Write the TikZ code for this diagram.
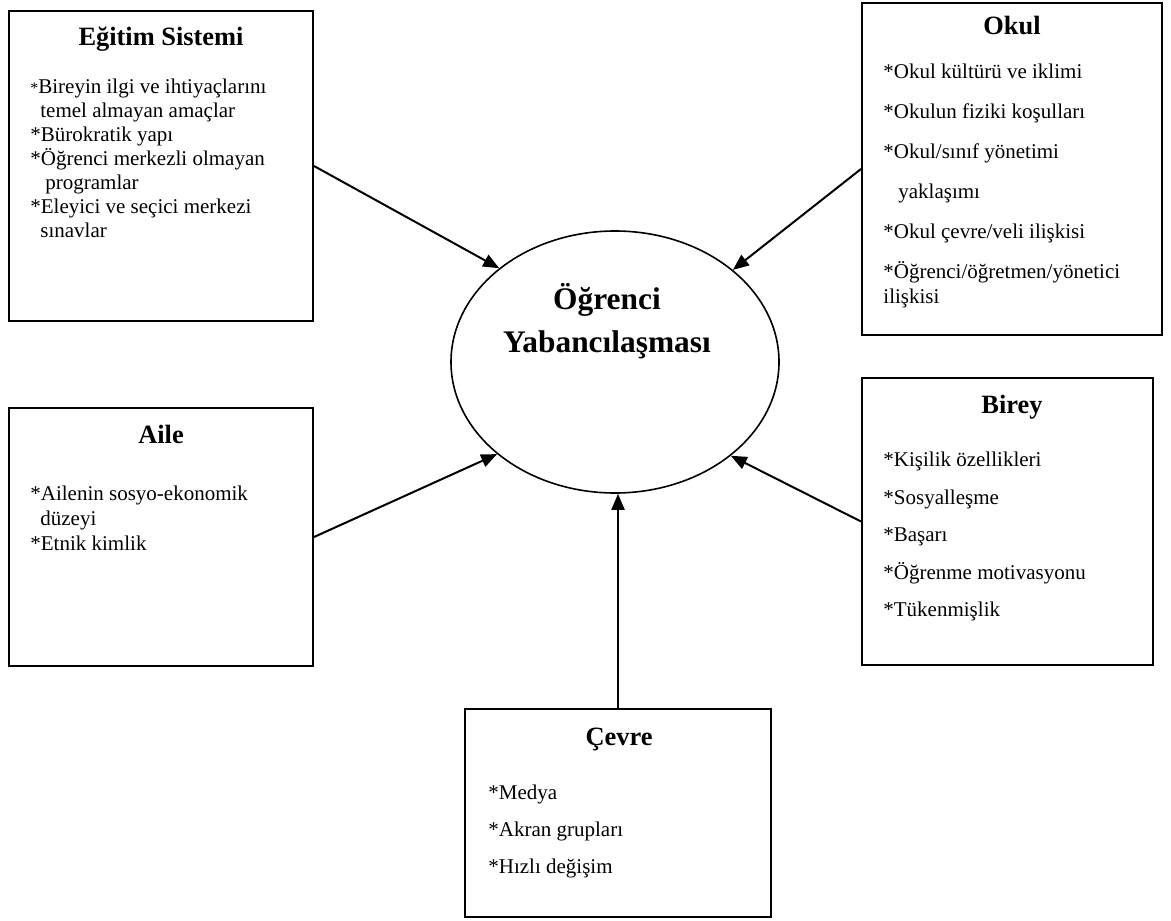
\documentclass[tikz,border=0pt]{standalone}
\usepackage{fontspec}
\setmainfont{Liberation Serif}
\usetikzlibrary{shapes.geometric,arrows.meta}

\begin{document}
\begin{tikzpicture}[x=0.5pt,y=-0.5pt,
  kutu/.style={draw,line width=1pt,inner sep=0pt},
  baslik/.style={font=\bfseries\fontsize{13.2}{15}\selectfont,anchor=base,inner sep=0pt},
  madde/.style={font=\fontsize{10.5}{12}\selectfont,align=left,anchor=north west,inner sep=0pt},
  ok/.style={line width=1pt,-{Triangle[length=8pt,width=6.5pt]}}]

\useasboundingbox (0,0) rectangle (1171,920);

\node[ellipse,draw,thick,minimum width=164pt,minimum height=131pt,inner sep=0pt] (yab) at (615,362) {};
\node[font=\bfseries\fontsize{15.7}{21.5}\selectfont,align=center] (yabyazi) at (607,321) {Öğrenci\\Yabancılaşması};

\node[kutu,minimum width=152pt,minimum height=155pt] (egitim) at (161,166) {};
\node[baslik] (egitimb) at (161,46) {Eğitim Sistemi};
\node[madde] (egitimm) at (30,78.5) {{\footnotesize *}Bireyin ilgi ve ihtiyaçlarını\\\hspace*{5pt}temel almayan amaçlar\\{}*Bürokratik yapı\\{}*Öğrenci merkezli olmayan\\\hspace*{7.5pt}programlar\\{}*Eleyici ve seçici merkezi\\\hspace*{5pt}sınavlar};

\node[kutu,minimum width=150pt,minimum height=166pt] (okul) at (1012,169) {};
\node[baslik] (okulb) at (1012,35) {Okul};
\node[madde,font=\fontsize{10.5}{20}\selectfont] (okulm) at (883,63.5) {*Okul kültürü ve iklimi\\{}*Okulun fiziki koşulları\\{}*Okul/sınıf yönetimi\\\hspace*{7.5pt}yaklaşımı\\{}*Okul çevre/veli ilişkisi\\{}*Öğrenci/öğretmen/yönetici\\[-7.5pt]ilişkisi};

\node[kutu,minimum width=152pt,minimum height=129pt] (aile) at (161,537) {};
\node[baslik] (aileb) at (161,443) {Aile};
\node[madde,font=\fontsize{10.5}{12.5}\selectfont] (ailem) at (30,485.5) {*Ailenin sosyo-ekonomik\\\hspace*{5pt}düzeyi\\{}*Etnik kimlik};

\node[kutu,minimum width=145.5pt,minimum height=143.5pt] (birey) at (1007.5,521.5) {};
\node[baslik] (bireyb) at (1012,413) {Birey};
\node[madde,font=\fontsize{10.5}{18.75}\selectfont] (bireym) at (883,452) {*Kişilik özellikleri\\{}*Sosyalleşme\\{}*Başarı\\{}*Öğrenme motivasyonu\\{}*Tükenmişlik};

\node[kutu,minimum width=153pt,minimum height=104pt] (cevre) at (618,813) {};
\node[baslik] (cevreb) at (619,745) {Çevre};
\node[madde,font=\fontsize{10.5}{18.5}\selectfont] (cevrem) at (488,785) {*Medya\\{}*Akran grupları\\{}*Hızlı değişim};

\draw[ok] (egitim.east) -- (yab.141.6);
\draw[ok] (okul.west) -- (yab.38.8);
\draw[ok] (aile.east) -- (yab.218.5);
\draw[ok] (birey.west) -- (yab.321.6);
\draw[ok] (cevre.north) -- (cevre.north |- yab.south);

\end{tikzpicture}
\end{document}
